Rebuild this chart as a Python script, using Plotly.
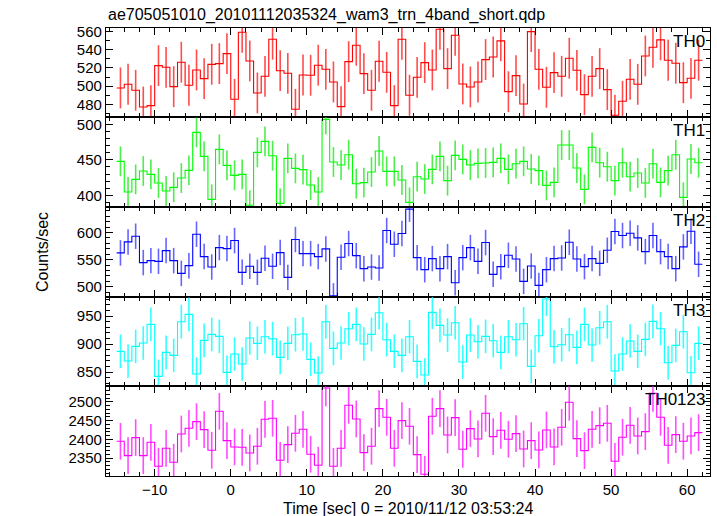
import plotly.graph_objects as go

# ---- data (bin centres: first bin centre, bin width, number of bins) ----
T_FIRST = -14.5
BIN_WIDTH = 1.0
N_BINS = 77

TH0 = [498.0, 502.0, 495.4, 477.0, 478.5, 522.6, 520.7, 499.4, 526.3, 500.9,
       517.8, 508.3, 524.0, 524.8, 535.8, 485.5, 559.3, 527.7, 492.5, 510.8,
       551.6, 517.0, 514.1, 474.5, 512.3, 512.0, 523.0, 518.5, 504.6, 477.4,
       527.0, 545.0, 513.8, 495.4, 527.4, 515.2, 478.5, 551.6, 489.9, 509.7,
       525.9, 517.8, 562.6, 519.3, 556.0, 502.4, 499.1, 504.6, 529.2, 532.1,
       549.8, 493.9, 511.6, 480.3, 560.0, 518.5, 498.7, 514.9, 510.8, 530.7,
       517.4, 490.6, 510.8, 519.3, 496.1, 468.0, 483.3, 507.5, 502.0, 533.2,
       542.8, 550.9, 528.5, 525.2, 503.8, 508.6, 528.5]
TH1 = [447.8, 404.6, 422.4, 434.2, 429.5, 417.3, 406.0, 411.2, 424.3, 435.1,
       488.7, 454.8, 394.3, 464.7, 442.2, 428.1, 429.5, 386.0, 460.5, 476.0,
       455.8, 388.6, 452.0, 437.9, 436.1, 414.5, 404.6, 507.0, 446.9, 442.6,
       457.2, 416.3, 417.8, 432.8, 462.4, 433.7, 433.7, 421.5, 390.0, 426.2,
       422.9, 436.5, 454.8, 420.6, 456.2, 450.6, 442.6, 445.0, 445.5, 446.4,
       452.0, 436.5, 444.5, 447.8, 437.0, 434.7, 414.0, 418.2, 470.8, 470.8,
       438.4, 408.4, 467.5, 445.9, 440.3, 420.6, 445.9, 426.2, 431.4, 417.3,
       444.5, 418.2, 434.7, 457.2, 397.1, 451.1, 445.9]
TH2 = [562.3, 582.6, 593.1, 544.4, 548.1, 546.8, 566.6, 548.1, 524.6, 538.8,
       596.8, 555.5, 536.3, 572.1, 570.3, 585.1, 526.5, 537.6, 526.5, 552.4,
       537.6, 562.9, 517.2, 587.0, 561.0, 561.0, 555.5, 569.7, 483.0, 554.2,
       579.6, 557.3, 533.3, 536.3, 534.5, 603.6, 578.3, 598.1, 643.1, 553.6,
       531.4, 551.8, 533.3, 555.5, 507.3, 553.6, 572.1, 546.8, 581.4, 522.8,
       537.0, 557.9, 551.2, 509.8, 538.2, 502.4, 531.4, 551.8, 553.0, 582.0,
       551.2, 537.0, 551.8, 543.1, 567.2, 601.8, 594.4, 598.7, 590.0, 564.7,
       594.4, 564.7, 555.5, 533.3, 573.4, 602.4, 541.3]
TH3 = [886.9, 869.6, 895.8, 901.8, 935.1, 842.2, 885.1, 879.7, 939.9, 953.0,
       846.4, 906.5, 917.2, 913.7, 849.4, 882.1, 864.3, 910.7, 901.2, 913.1,
       909.5, 876.2, 901.2, 916.6, 917.8, 872.6, 848.2, 939.9, 892.2, 901.8,
       927.4, 935.1, 900.0, 917.2, 955.9, 907.7, 886.9, 879.7, 913.1, 869.0,
       844.6, 956.5, 933.3, 916.0, 938.1, 867.8, 916.0, 904.1, 913.7, 905.9,
       885.1, 913.1, 907.7, 936.3, 860.1, 914.9, 980.3, 895.2, 898.8, 916.6,
       894.0, 935.1, 898.2, 929.1, 939.9, 851.8, 882.1, 905.3, 886.9, 908.3,
       940.5, 927.4, 866.6, 897.6, 922.0, 848.8, 901.2]
TH0123 = [2394.6, 2356.4, 2404.4, 2356.4, 2392.0, 2328.0, 2376.0, 2338.7, 2414.1, 2429.2,
          2447.0, 2425.7, 2370.6, 2474.5, 2396.4, 2379.5, 2378.6, 2363.5, 2381.3, 2453.2,
          2455.9, 2344.0, 2385.7, 2415.9, 2426.6, 2360.0, 2330.7, 2536.7, 2328.0, 2376.0,
          2490.5, 2454.1, 2364.4, 2381.3, 2481.6, 2458.5, 2376.0, 2449.7, 2434.6, 2359.1,
          2306.7, 2461.2, 2481.6, 2411.5, 2457.7, 2373.3, 2428.4, 2400.8, 2469.2, 2407.0,
          2423.9, 2399.9, 2415.0, 2374.2, 2396.4, 2371.5, 2424.8, 2379.5, 2431.9, 2498.5,
          2401.7, 2369.7, 2426.6, 2436.3, 2442.6, 2341.3, 2405.3, 2437.2, 2408.8, 2420.4,
          2522.5, 2458.5, 2384.0, 2412.4, 2394.6, 2408.8, 2417.7]

# typical 1-sigma error bar half-lengths
ERRORS = [22.5, 21.0, 23.5, 30.0, 49.0]

SERIES = [TH0, TH1, TH2, TH3, TH0123]
LABELS = ["TH0", "TH1", "TH2", "TH3", "TH0123"]
COLORS = ["#ff0000", "#00ff00", "#0000ff", "#00ffff", "#ff00ff"]
ERR_COLORS = ["rgba(255,0,0,0.7)", "rgba(0,230,0,0.7)", "rgba(0,0,255,0.6)",
              "rgba(0,255,255,0.8)", "rgba(255,0,255,0.7)"]
Y_RANGES = [[466, 564], [383.5, 510.3], [481, 647], [825, 984], [2302, 2542]]
Y_DTICK = [20, 50, 50, 50, 50]
Y_MINOR = [10, 10, 10, 10, 10]
X_RANGE = [-16.4, 63.0]
TITLE = "ae705051010_20101112035324_wam3_trn_4band_short.qdp"
XTITLE = "Time [sec] 0 = 2010/11/12 03:53:24"
YTITLE = "Counts/sec"

# ---- figure ----
W, H = 717, 516
M_L, M_R, M_T, M_B = 106, 7, 28, 40
panel_px = [28, 117, 207, 297, 386, 476]
plot_h = H - M_T - M_B

centers = [T_FIRST + i * BIN_WIDTH for i in range(N_BINS)]
edges = [c - BIN_WIDTH / 2 for c in centers] + [centers[-1] + BIN_WIDTH / 2]

FONT = "Liberation Sans, Arial, Helvetica, sans-serif"
fig = go.Figure()
layout = dict(
    width=W, height=H,
    margin=dict(l=M_L, r=M_R, t=M_T, b=M_B, pad=0),
    paper_bgcolor="white", plot_bgcolor="white",
    showlegend=False,
    font=dict(family=FONT, size=15, color="black"),
    annotations=[],
)

for i, (vals, lab, col) in enumerate(zip(SERIES, LABELS, COLORS)):
    n = i + 1
    xa = "x" if n == 1 else f"x{n}"
    ya = "y" if n == 1 else f"y{n}"
    # error bars at bin centres
    fig.add_trace(go.Scatter(
        x=centers, y=vals, mode="markers", xaxis=xa, yaxis=ya,
        marker=dict(size=0.1, color=col, opacity=0),
        error_y=dict(type="constant", value=ERRORS[i], color=ERR_COLORS[i],
                     thickness=1.6, width=0),
        hoverinfo="skip", cliponaxis=True))
    # step histogram line
    fig.add_trace(go.Scatter(
        x=edges, y=list(vals) + [vals[-1]], mode="lines", xaxis=xa, yaxis=ya,
        line=dict(color=col, width=1.1, shape="hv"),
        hoverinfo="skip"))

    top = (H - M_B - panel_px[i]) / plot_h
    bot = (H - M_B - panel_px[i + 1]) / plot_h
    xkey = "xaxis" if n == 1 else f"xaxis{n}"
    ykey = "yaxis" if n == 1 else f"yaxis{n}"
    layout[xkey] = dict(
        anchor=ya, range=X_RANGE, domain=[0, 1],
        showline=True, linecolor="black", linewidth=1.2, mirror="allticks",
        ticks="inside", ticklen=7, tickwidth=1, tickcolor="black",
        dtick=10, tick0=0,
        minor=dict(ticks="inside", ticklen=4, dtick=2, tickcolor="black"),
        showgrid=False, zeroline=False,
        showticklabels=(n == 5),
        tickfont=dict(size=15, family=FONT),
    )
    if n != 1:
        layout[xkey]["matches"] = "x"
    layout[ykey] = dict(
        anchor=xa, domain=[bot, top], range=Y_RANGES[i],
        showline=True, linecolor="black", linewidth=1.2, mirror="allticks",
        ticks="inside", ticklen=7, tickwidth=1, tickcolor="black",
        dtick=Y_DTICK[i], tick0=0,
        minor=dict(ticks="inside", ticklen=4, dtick=Y_MINOR[i], tickcolor="black"),
        showgrid=False, zeroline=False,
        tickfont=dict(size=15, family=FONT),
    )
    layout["annotations"].append(dict(
        text=lab, xref="paper", yref="paper", x=0.995, y=top - 0.004,
        xanchor="right", yanchor="top", showarrow=False,
        font=dict(size=17, family=FONT, color="black")))

layout["annotations"].append(dict(
    text=TITLE, xref="paper", yref="paper", x=0.0, y=1.0, yshift=2,
    xanchor="left", yanchor="bottom", showarrow=False,
    font=dict(size=16, family=FONT, color="black")))
layout["annotations"].append(dict(
    text=XTITLE, xref="paper", yref="paper", x=0.5, y=0, yshift=-22,
    xanchor="center", yanchor="top", showarrow=False,
    font=dict(size=16, family=FONT, color="black")))
layout["annotations"].append(dict(
    text=YTITLE, xref="paper", yref="paper", x=0, xshift=-64, y=0.5,
    xanchor="center", yanchor="middle", textangle=-90, showarrow=False,
    font=dict(size=16, family=FONT, color="black")))

fig.update_layout(**layout)
fig.write_html(
    "out.html",
    config={"displayModeBar": False},
    post_script="document.body.style.margin='0';document.body.style.overflow='hidden';",
)
